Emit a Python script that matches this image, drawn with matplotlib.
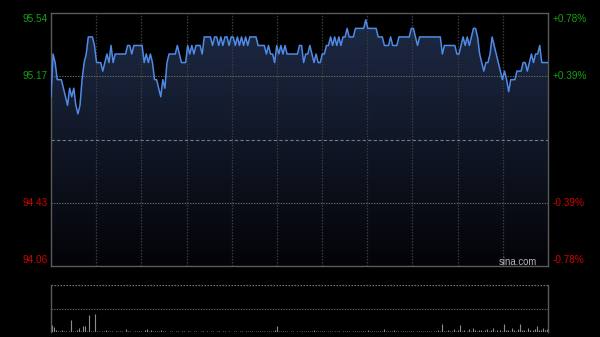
import numpy as np
import matplotlib
matplotlib.use('Agg')
import matplotlib.pyplot as plt
import matplotlib.transforms as mtransforms

plt.rcParams['font.family'] = ['Liberation Sans', 'DejaVu Sans']

# ---- data (one value per trading minute) ----
price = [
    95.05, 95.30, 95.25, 95.15, 95.15, 95.15, 95.10, 95.05, 95.00, 95.10,
    95.05, 95.10, 95.00, 94.95, 95.00, 95.15, 95.25, 95.30, 95.40, 95.40,
    95.40, 95.35, 95.25, 95.25, 95.25, 95.20, 95.25, 95.30, 95.25, 95.35,
    95.25, 95.30, 95.30, 95.30, 95.30, 95.30, 95.30, 95.35, 95.35, 95.30,
    95.35, 95.35, 95.35, 95.35, 95.35, 95.25, 95.30, 95.25, 95.30, 95.25,
    95.15, 95.15, 95.10, 95.05, 95.15, 95.10, 95.25, 95.30, 95.30, 95.30,
    95.30, 95.35, 95.30, 95.25, 95.25, 95.25, 95.35, 95.30, 95.35, 95.30,
    95.35, 95.35, 95.35, 95.30, 95.40, 95.40, 95.40, 95.40, 95.35, 95.40,
    95.40, 95.35, 95.40, 95.35, 95.40, 95.40, 95.35, 95.40, 95.40, 95.35,
    95.40, 95.35, 95.40, 95.35, 95.40, 95.35, 95.40, 95.40, 95.40, 95.40,
    95.35, 95.35, 95.35, 95.35, 95.30, 95.35, 95.30, 95.30, 95.25, 95.35,
    95.30, 95.35, 95.30, 95.35, 95.30, 95.30, 95.30, 95.30, 95.30, 95.30,
    95.35, 95.35, 95.25, 95.30, 95.30, 95.35, 95.30, 95.25, 95.30, 95.25,
    95.25, 95.30, 95.30, 95.35, 95.35, 95.40, 95.35, 95.40, 95.35, 95.40,
    95.35, 95.40, 95.40, 95.45, 95.40, 95.40, 95.40, 95.45, 95.45, 95.45,
    95.45, 95.45, 95.50, 95.45, 95.45, 95.45, 95.45, 95.45, 95.40, 95.40,
    95.40, 95.35, 95.35, 95.35, 95.40, 95.35, 95.35, 95.35, 95.40, 95.40,
    95.40, 95.40, 95.40, 95.40, 95.45, 95.45, 95.40, 95.35, 95.40, 95.40,
    95.40, 95.40, 95.40, 95.40, 95.40, 95.40, 95.40, 95.40, 95.40, 95.30,
    95.35, 95.35, 95.35, 95.35, 95.35, 95.35, 95.30, 95.30, 95.35, 95.40,
    95.35, 95.40, 95.35, 95.40, 95.45, 95.45, 95.40, 95.30, 95.25, 95.20,
    95.25, 95.25, 95.30, 95.40, 95.35, 95.30, 95.25, 95.20, 95.15, 95.20,
    95.15, 95.08, 95.15, 95.15, 95.15, 95.20, 95.20, 95.20, 95.25, 95.25,
    95.20, 95.25, 95.30, 95.25, 95.30, 95.30, 95.35, 95.25, 95.25, 95.25,
    95.25,
]

volume = [
    15, 10, 5, 3, 2, 4, 2, 3, 2, 26,
    3, 2, 4, 9, 3, 13, 12, 3, 36, 2,
    3, 38, 2, 3, 2, 2, 5, 3, 2, 2,
    1, 2, 3, 2, 2, 1, 6, 2, 2, 1,
    2, 2, 3, 2, 1, 5, 6, 2, 5, 3,
    2, 2, 3, 4, 2, 2, 1, 2, 2, 1,
    2, 2, 1, 2, 2, 1, 2, 2, 1, 2,
    2, 1, 2, 2, 1, 2, 1, 2, 2, 1,
    2, 2, 1, 2, 2, 1, 2, 1, 2, 2,
    1, 2, 2, 1, 2, 2, 3, 2, 1, 2,
    2, 3, 2, 2, 3, 2, 2, 3, 4, 13,
    3, 2, 2, 3, 2, 1, 2, 2, 1, 2,
    2, 2, 3, 2, 2, 3, 2, 4, 2, 2,
    3, 2, 2, 1, 2, 2, 3, 2, 2, 2,
    1, 2, 3, 2, 2, 1, 2, 2, 3, 2,
    2, 2, 3, 5, 2, 2, 3, 2, 2, 3,
    2, 6, 3, 2, 2, 3, 4, 2, 2, 2,
    3, 2, 2, 3, 2, 2, 1, 2, 2, 3,
    2, 2, 3, 2, 2, 3, 2, 4, 2, 17,
    3, 2, 4, 3, 2, 6, 3, 4, 15, 3,
    4, 3, 6, 3, 8, 4, 3, 5, 4, 3,
    4, 6, 3, 4, 8, 3, 5, 4, 3, 18,
    4, 5, 3, 8, 4, 3, 6, 18, 4, 5,
    3, 8, 4, 5, 6, 13, 4, 5, 8, 4,
    6,
]

prev_close = 94.80
y_min, y_max = 94.06, 95.54
grid_prices = [95.17, 94.43]
left_vals = [95.54, 95.17, 94.43, 94.06]
left_labels = ['95.54', '95.17', '94.43', '94.06']
right_labels = ['+0.78%', '+0.39%', '-0.39%', '-0.78%']
label_colors = ['#14a014', '#14a014', '#d00000', '#d00000']
n_vgrid = 11

# ---- figure ----
fig = plt.figure(figsize=(6.0, 3.37), dpi=100, facecolor='black')
ax = fig.add_axes([51/600, 71/337, 497/600, 253/337])
ax.set_facecolor('black')
n = len(price)
x = np.arange(n)

poly = ax.fill_between(x, price, y_min, color='none', lw=0)
grad = np.linspace(1, 0, 256).reshape(-1, 1, 1)
top_c = np.array([30, 42, 70]) / 255.0
bot_c = np.array([3, 4, 7]) / 255.0
img = bot_c + (top_c - bot_c) * grad
im = ax.imshow(img, extent=[0, n - 1, y_min, y_max], aspect='auto',
               origin='upper', zorder=1, interpolation='bilinear')
im.set_clip_path(poly.get_paths()[0], transform=ax.transData)

for k in range(1, n_vgrid):
    ax.axvline((n - 1) * k / n_vgrid, color='#3c3c3c', lw=0.9,
               ls=(0, (1.2, 1.2)), zorder=2)
for gp in grid_prices:
    ax.axhline(gp, color='#6a6a6a', lw=0.8, ls=(0, (1.2, 1.2)), zorder=2)
ax.axhline(prev_close, color='#7a7a7a', lw=0.8, ls=(0, (3, 2)), zorder=2)

ax.plot(x, price, color='#4f8ae6', lw=1.1, zorder=3, solid_joinstyle='round')

ax.set_xlim(0, n - 1)
ax.set_ylim(y_min, y_max)
ax.set_xticks([])
ax.set_yticks([])
for s in ax.spines.values():
    s.set_color('#5a5a5a')
    s.set_linewidth(1.0)

trans_l = mtransforms.blended_transform_factory(ax.transAxes, ax.transData)
offs = [-4.3, 0, 0, 4.3]
for v, lab, rl, c, dy in zip(left_vals, left_labels, right_labels, label_colors, offs):
    ax.annotate(lab, xy=(0, v), xycoords=trans_l, xytext=(-2.4, dy),
                textcoords='offset points', ha='right', va='center',
                color=c, fontsize=7.2, annotation_clip=False)
    ax.annotate(rl, xy=(1, v), xycoords=trans_l, xytext=(3.6, dy),
                textcoords='offset points', ha='left', va='center',
                color=c, fontsize=7.2, annotation_clip=False)

ax.annotate('sina.com', xy=(1, 0), xycoords='axes fraction', xytext=(-8, 3.1),
            textcoords='offset points', ha='right', va='center',
            color='#b4b4b4', fontsize=6.9)

# ---- volume panel ----
vax = fig.add_axes([51/600, 5/337, 497/600, 47/337])
vax.set_facecolor('black')
vax.vlines(x, 0, volume, color='#8c8c8c', lw=0.8)
vax.set_xlim(-0.5, n - 0.5)
vax.set_ylim(0, 100)
vax.axhline(100, color='#777777', lw=0.9, ls=(0, (1.2, 1.2)))
vax.axhline(50, color='#666666', lw=0.8, ls=(0, (1.2, 1.2)))
vax.set_xticks([])
vax.set_yticks([])
for side in ['top', 'bottom']:
    vax.spines[side].set_visible(False)
for side in ['left', 'right']:
    vax.spines[side].set_color('#5a5a5a')
    vax.spines[side].set_linewidth(1.0)

fig.savefig('out.png', dpi=100, facecolor='black')
